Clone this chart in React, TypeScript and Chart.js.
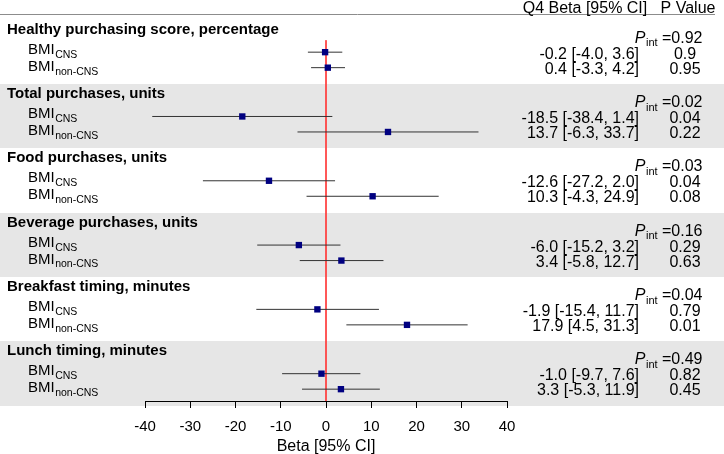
import React, { useEffect, useRef } from "react";
import { Chart, registerables } from "chart.js";

Chart.register(...registerables);

const outcomes = [
  "Healthy purchasing score, percentage",
  "Total purchases, units",
  "Food purchases, units",
  "Beverage purchases, units",
  "Breakfast timing, minutes",
  "Lunch timing, minutes",
];
const pInteraction = ["0.92", "0.02", "0.03", "0.16", "0.04", "0.49"];
const cnsBeta = [-0.2, -18.5, -12.6, -6.0, -1.9, -1.0];
const cnsLow = [-4.0, -38.4, -27.2, -15.2, -15.4, -9.7];
const cnsHigh = [3.6, 1.4, 2.0, 3.2, 11.7, 7.6];
const cnsP = ["0.9", "0.04", "0.04", "0.29", "0.79", "0.82"];
const nonBeta = [0.4, 13.7, 10.3, 3.4, 17.9, 3.3];
const nonLow = [-3.3, -6.3, -4.3, -5.8, 4.5, -5.3];
const nonHigh = [4.2, 33.7, 24.9, 12.7, 31.3, 11.9];
const nonP = ["0.95", "0.22", "0.08", "0.63", "0.01", "0.45"];
const xTicks = [-40, -30, -20, -10, 0, 10, 20, 30, 40];

// row offsets inside each section (section units, 1 section = ~64.3px)
const OFF_TITLE = 0.156;
const OFF_PINT = 0.29;
const OFF_CNS = 0.505;
const OFF_NON = 0.746;
const OFF_CNS_TXT = 0.54;
const OFF_NON_TXT = 0.772;
const OFF_CNS_LBL = 0.467;
const OFF_NON_LBL = 0.731;

const FONT = "'Liberation Sans', Arial, Helvetica, sans-serif";

const fmt = (b: number, l: number, h: number) =>
  `${b.toFixed(1)} [${l.toFixed(1)}, ${h.toFixed(1)}]`;

export default function App() {
  const ref = useRef<HTMLCanvasElement | null>(null);
  useEffect(() => {
    const canvas = ref.current!;
    const ciSets: any[] = [];
    outcomes.forEach((_, k) => {
      ciSets.push({
        data: [
          { x: cnsLow[k], y: k + OFF_CNS },
          { x: cnsHigh[k], y: k + OFF_CNS },
        ],
        showLine: true,
        borderColor: "#333333",
        borderWidth: 1,
        pointRadius: 0,
        order: 2,
      });
      ciSets.push({
        data: [
          { x: nonLow[k], y: k + OFF_NON },
          { x: nonHigh[k], y: k + OFF_NON },
        ],
        showLine: true,
        borderColor: "#333333",
        borderWidth: 1,
        pointRadius: 0,
        order: 2,
      });
    });
    const points: any[] = [];
    outcomes.forEach((_, k) => {
      points.push({ x: cnsBeta[k], y: k + OFF_CNS });
      points.push({ x: nonBeta[k], y: k + OFF_NON });
    });

    const textPlugin = {
      id: "forestText",
      beforeDraw(chart: any) {
        const { ctx, scales } = chart;
        const y = scales.y;
        ctx.save();
        ctx.fillStyle = "#e6e6e6";
        for (let k = 1; k < outcomes.length; k += 2) {
          const t = Math.round(y.getPixelForValue(k));
          const b = Math.round(y.getPixelForValue(k + 1));
          ctx.fillRect(0, t, 724, b - t);
        }
        // top rule
        ctx.strokeStyle = "#8c8c8c";
        ctx.lineWidth = 1;
        ctx.beginPath();
        ctx.moveTo(0, chart.chartArea.top + 0.5);
        ctx.lineTo(715, chart.chartArea.top + 0.5);
        ctx.stroke();
        ctx.restore();
      },
      afterDraw(chart: any) {
        const { ctx, scales } = chart;
        const y = scales.y;
        ctx.save();
        ctx.fillStyle = "#000";
        // header
        ctx.textBaseline = "alphabetic";
        ctx.font = `16px ${FONT}`;
        ctx.textAlign = "center";
        ctx.fillText("Q4 Beta [95% CI]", 585, 12.5);
        ctx.fillText("P Value", 688, 12.5);
        ctx.textBaseline = "middle";

        const drawSub = (x: number, py: number, main: string, sub: string) => {
          ctx.textAlign = "left";
          ctx.font = `15px ${FONT}`;
          ctx.fillText(main, x, py);
          const w = ctx.measureText(main).width;
          ctx.font = `10.5px ${FONT}`;
          ctx.fillText(sub, x + w + 0.5, py + 5);
        };

        outcomes.forEach((title, k) => {
          // title
          ctx.textAlign = "left";
          ctx.font = `bold 15px ${FONT}`;
          ctx.fillText(title, 7, y.getPixelForValue(k + OFF_TITLE));
          // labels
          drawSub(28, y.getPixelForValue(k + OFF_CNS_LBL), "BMI", "CNS");
          drawSub(28, y.getPixelForValue(k + OFF_NON_LBL), "BMI", "non-CNS");
          // P int
          const py = y.getPixelForValue(k + OFF_PINT);
          const rest = " =" + pInteraction[k];
          ctx.font = `16px ${FONT}`;
          const wRest = ctx.measureText(rest).width;
          ctx.font = `11px ${FONT}`;
          const wInt = ctx.measureText("int").width;
          ctx.font = `italic 16px ${FONT}`;
          const wP = ctx.measureText("P").width;
          let x0 = 702 - wRest - wInt - wP;
          ctx.textAlign = "left";
          ctx.fillText("P", x0, py);
          x0 += wP + 0.5;
          ctx.font = `11px ${FONT}`;
          ctx.fillText("int", x0, py + 5);
          x0 += wInt;
          ctx.font = `16px ${FONT}`;
          ctx.fillText(rest, x0, py);
          // values
          ctx.textAlign = "right";
          ctx.fillText(fmt(cnsBeta[k], cnsLow[k], cnsHigh[k]), 639, y.getPixelForValue(k + OFF_CNS_TXT));
          ctx.fillText(fmt(nonBeta[k], nonLow[k], nonHigh[k]), 639, y.getPixelForValue(k + OFF_NON_TXT));
          ctx.textAlign = "center";
          ctx.fillText(cnsP[k], 685, y.getPixelForValue(k + OFF_CNS_TXT));
          ctx.fillText(nonP[k], 685, y.getPixelForValue(k + OFF_NON_TXT));
        });
        ctx.restore();
      },
    };

    const chart = new Chart(canvas, {
      type: "scatter",
      data: {
        datasets: [
          {
            data: [
              { x: 0, y: 0.32 },
              { x: 0, y: 5.93 },
            ],
            showLine: true,
            borderColor: "#ff4040",
            borderWidth: 1,
            pointRadius: 0,
            order: 3,
          },
          ...ciSets,
          {
            data: points,
            pointStyle: "rect",
            pointRadius: 4.5,
            backgroundColor: "#000080",
            borderWidth: 0,
            order: 1,
          },
        ],
      },
      options: {
        responsive: false,
        animation: false,
        events: [],
        layout: { padding: { left: 145, right: 217, top: 14, bottom: 0 } },
        plugins: { legend: { display: false }, tooltip: { enabled: false } },
        scales: {
          x: {
            type: "linear",
            min: -40,
            max: 40,
            afterBuildTicks: (axis: any) => {
              axis.ticks = xTicks.map((v) => ({ value: v }));
            },
            afterFit: (axis: any) => {
              axis.height = 53;
            },
            ticks: {
              color: "#000",
              font: { family: FONT, size: 15 },
              padding: 10,
              maxRotation: 0,
            },
            grid: {
              drawOnChartArea: false,
              drawTicks: true,
              tickLength: 7,
              color: "#000",
              lineWidth: 1,
            },
            border: { display: true, color: "#000", width: 1 },
            title: {
              display: true,
              text: "Beta [95% CI]",
              color: "#000",
              font: { family: FONT, size: 16 },
              padding: { top: 0, bottom: -2 },
            },
          },
          y: {
            type: "linear",
            display: false,
            reverse: true,
            min: -0.0886,
            max: 5.93,
          },
        },
      },
      plugins: [textPlugin],
    });
    return () => chart.destroy();
  }, []);
  return (
    <div style={{ position: "fixed", left: 0, top: 0, width: 724, height: 454 }}>
      <canvas ref={ref} width={724} height={454} style={{ display: "block" }} />
    </div>
  );
}
